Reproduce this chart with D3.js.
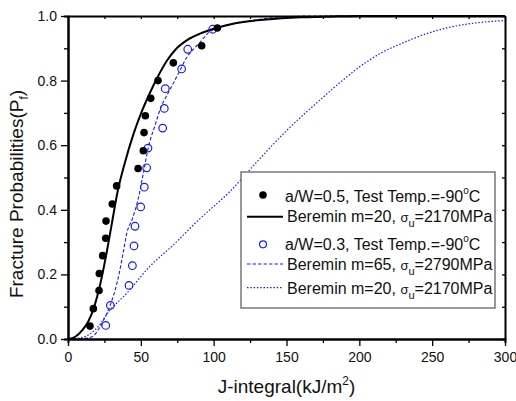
<!DOCTYPE html>
<html>
  <head>
    <script src="https://d3js.org/d3.v7.min.js" charset="utf-8"></script>
    <style>
      body { margin: 0; background: #fff; }
      text { font-family: "Liberation Sans", Arial, sans-serif; }
    </style>
  </head>
  <body>
    <svg id="chart" width="516" height="401"></svg>
    <script>
      // measured points, a/W=0.5 (filled) and a/W=0.3 (open)
      var jFilled = [15.1, 17.4, 21.3, 21.5, 23.8, 25.9, 26.1, 30.4, 33.4, 48.1, 51.7, 52.2, 53.1, 56.8, 61.8, 72.3, 91.8, 102.5];
      var pFilled = [0.040, 0.094, 0.150, 0.203, 0.258, 0.312, 0.365, 0.418, 0.474, 0.528, 0.583, 0.639, 0.691, 0.745, 0.800, 0.855, 0.908, 0.963];

      var jOpen = [25.9, 29.1, 41.9, 44.2, 45.3, 46.0, 49.9, 52.4, 54.0, 54.9, 65.0, 66.1, 66.8, 78.0, 82.2, 99.3];
      var pOpen = [0.042, 0.104, 0.166, 0.227, 0.288, 0.349, 0.409, 0.470, 0.530, 0.591, 0.653, 0.714, 0.775, 0.836, 0.897, 0.959];

      // Beremin m=20, su=2170MPa (a/W=0.5), solid
      var jSolid = [0, 5, 10, 14, 18, 22, 26, 30, 34, 39, 45, 50, 55, 62, 68, 74, 82, 91, 102, 114, 136, 160, 185, 200, 300];
      var pSolid = [0, 0.007, 0.028, 0.055, 0.10, 0.167, 0.255, 0.355, 0.455, 0.545, 0.635, 0.697, 0.75, 0.815, 0.862, 0.897, 0.926, 0.946, 0.963, 0.977, 0.989, 0.996, 0.999, 1, 1];

      // Beremin m=65, su=2790MPa, dashed
      var jDash = [0, 10, 15, 18, 21, 24, 29, 34, 38, 40.5, 44, 48, 52, 55, 60, 64, 68, 75, 82, 90, 97, 113, 132, 150, 170, 300];
      var pDash = [0, 0.001, 0.004, 0.012, 0.03, 0.055, 0.105, 0.18, 0.27, 0.33, 0.37, 0.43, 0.52, 0.59, 0.665, 0.72, 0.755, 0.815, 0.875, 0.915, 0.95, 0.975, 0.99, 0.998, 1, 1];

      // Beremin m=20, su=2170MPa (a/W=0.3), dotted
      var jDot = [0, 10, 20, 29, 40, 56, 72, 90, 111, 130, 150, 173, 187, 200, 216, 228, 237, 248, 260, 271, 283, 300];
      var pDot = [0, 0.005, 0.035, 0.09, 0.14, 0.224, 0.29, 0.37, 0.456, 0.55, 0.645, 0.74, 0.795, 0.842, 0.888, 0.913, 0.93, 0.948, 0.963, 0.973, 0.980, 0.986];

      var xMajor = [0, 50, 100, 150, 200, 250, 300];
      var xMinor = [25, 75, 125, 175, 225, 275];
      var yMajor = [0, 0.2, 0.4, 0.6, 0.8, 1.0];
      var yMinor = [0.1, 0.3, 0.5, 0.7, 0.9];

      var svg = d3.select("#chart");
      var x = d3.scaleLinear().domain([0, 300]).range([68, 505]);
      var y = d3.scaleLinear().domain([0, 1]).range([339, 16]);

      function pairs(js, ps) { return js.map((j, i) => ({j: j, p: ps[i]})); }

      var line = d3.line().x(d => x(d.j)).y(d => y(d.p)).curve(d3.curveMonotoneX);

      svg.append("path").attr("d", line(pairs(jDot, pDot)))
        .attr("fill", "none").attr("stroke", "#1a1aff").attr("stroke-width", 1.2)
        .attr("stroke-dasharray", "1.5,1.8");
      svg.append("path").attr("d", line(pairs(jDash, pDash)))
        .attr("fill", "none").attr("stroke", "#1a1aff").attr("stroke-width", 1.1)
        .attr("stroke-dasharray", "3.5,2");
      svg.append("path").attr("d", line(pairs(jSolid, pSolid)))
        .attr("fill", "none").attr("stroke", "#000").attr("stroke-width", 2);

      svg.append("g").selectAll("circle").data(pairs(jOpen, pOpen)).enter().append("circle")
        .attr("cx", d => x(d.j)).attr("cy", d => y(d.p)).attr("r", 3.8)
        .attr("fill", "none").attr("stroke", "#1a1aff").attr("stroke-width", 1.2);
      svg.append("g").selectAll("circle").data(pairs(jFilled, pFilled)).enter().append("circle")
        .attr("cx", d => x(d.j)).attr("cy", d => y(d.p)).attr("r", 3.8)
        .attr("fill", "#000");

      // axes
      function styleAxis(g) {
        g.select(".domain").attr("stroke-width", 2).attr("stroke", "#000");
        g.selectAll(".tick line").attr("stroke-width", 1.3).attr("stroke", "#000");
        g.selectAll(".tick text").attr("font-size", 14).attr("fill", "#111")
          .style("font-family", '"Liberation Sans", Arial, sans-serif');
      }
      svg.append("g").attr("transform", "translate(0,339)")
        .call(d3.axisBottom(x).tickValues(xMinor).tickSize(4).tickFormat(""))
        .call(styleAxis);
      svg.append("g").attr("transform", "translate(0,339)")
        .call(d3.axisBottom(x).tickValues(xMajor).tickSizeInner(7).tickSizeOuter(0).tickPadding(6).tickFormat(d3.format("d")))
        .call(styleAxis);
      svg.append("g").attr("transform", "translate(68,0)")
        .call(d3.axisLeft(y).tickValues(yMinor).tickSize(4).tickFormat(""))
        .call(styleAxis);
      svg.append("g").attr("transform", "translate(68,0)")
        .call(d3.axisLeft(y).tickValues(yMajor).tickSizeInner(7).tickSizeOuter(0).tickPadding(4).tickFormat(d3.format(".1f")))
        .call(styleAxis);
      svg.append("g").attr("transform", "translate(0,16)")
        .call(d3.axisTop(x).tickValues(xMajor.concat(xMinor)).tickSizeInner(-3).tickSizeOuter(0).tickFormat(""))
        .call(styleAxis);
      svg.append("g").attr("transform", "translate(505,0)")
        .call(d3.axisRight(y).tickValues(yMajor.concat(yMinor)).tickSizeInner(-3).tickSizeOuter(0).tickFormat(""))
        .call(styleAxis);

      // axis titles
      var xt = svg.append("text").attr("x", 286.5).attr("y", 393).attr("text-anchor", "middle")
        .attr("font-size", 19).attr("fill", "#111");
      xt.append("tspan").text("J-integral(kJ/m");
      xt.append("tspan").attr("font-size", 12).attr("dy", -8).text("2");
      xt.append("tspan").attr("dy", 8).text(")");

      var yt = svg.append("text").attr("transform", "translate(23,194) rotate(-90)")
        .attr("text-anchor", "middle").attr("font-size", 19).attr("fill", "#111");
      yt.append("tspan").text("Fracture Probabilities(P");
      yt.append("tspan").attr("font-size", 12).attr("dy", 5).text("f");
      yt.append("tspan").attr("dy", -5).text(")");

      // legend
      var lg = svg.append("g");
      lg.append("rect").attr("x", 241).attr("y", 172).attr("width", 254).attr("height", 136)
        .attr("fill", "#fff").attr("stroke", "#555").attr("stroke-width", 1.2);

      function tempLabel(yb, aw) {
        var tx = lg.append("text").attr("x", 285).attr("y", yb).attr("font-size", 16).attr("fill", "#111");
        tx.append("tspan").text("a/W=" + aw + ", Test Temp.=-90");
        tx.append("tspan").attr("font-size", 10).attr("dy", -8).text("o");
        tx.append("tspan").attr("dy", 8).text("C");
      }
      function bereminLabel(yb, m, s) {
        var tx = lg.append("text").attr("x", 287).attr("y", yb).attr("font-size", 16).attr("fill", "#111");
        tx.append("tspan").text("Beremin m=" + m + ", ");
        tx.append("tspan").attr("font-size", 13).text("σ");
        tx.append("tspan").attr("font-size", 11).attr("dy", 5).text("u");
        tx.append("tspan").attr("dy", -5).text("=" + s + "MPa");
      }

      lg.append("circle").attr("cx", 263).attr("cy", 195).attr("r", 3.8).attr("fill", "#000");
      tempLabel(201.5, "0.5");
      lg.append("line").attr("x1", 247).attr("x2", 283).attr("y1", 216.7).attr("y2", 216.7)
        .attr("stroke", "#000").attr("stroke-width", 2);
      bereminLabel(222, 20, 2170);

      lg.append("circle").attr("cx", 263).attr("cy", 244.3).attr("r", 3.5)
        .attr("fill", "none").attr("stroke", "#1a1aff").attr("stroke-width", 1.2);
      tempLabel(250, "0.3");
      lg.append("line").attr("x1", 247).attr("x2", 283).attr("y1", 264).attr("y2", 264)
        .attr("stroke", "#1a1aff").attr("stroke-width", 1.1).attr("stroke-dasharray", "3.5,2");
      bereminLabel(270, 65, 2790);
      lg.append("line").attr("x1", 247).attr("x2", 283).attr("y1", 287.7).attr("y2", 287.7)
        .attr("stroke", "#1a1aff").attr("stroke-width", 1.2).attr("stroke-dasharray", "1.5,1.8");
      bereminLabel(293.5, 20, 2170);
    </script>
  </body>
</html>
